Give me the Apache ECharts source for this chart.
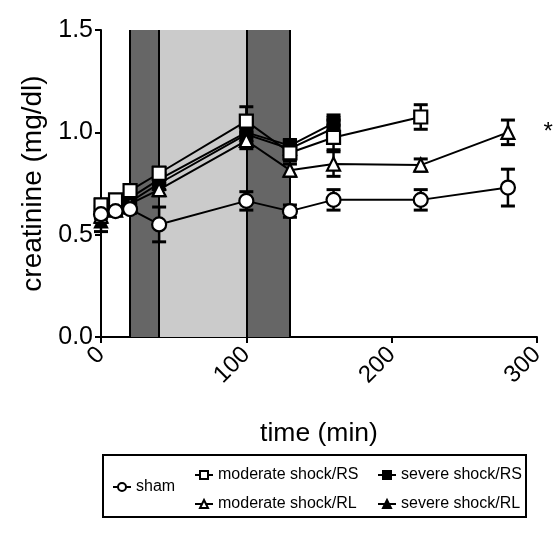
<!DOCTYPE html>
<html><head><meta charset="utf-8">
<script src="https://cdn.jsdelivr.net/npm/echarts@6/dist/echarts.min.js"></script>
<style>html,body{margin:0;padding:0;background:#fff}#c{width:557px;height:543px}</style>
</head><body><div id="c"></div>
<script>
// ---- data ----
const shamT  = [0, 10, 20, 40, 100, 130, 160, 220, 280];
const shamY  = [0.60, 0.615, 0.625, 0.55, 0.665, 0.615, 0.67, 0.67, 0.73];
const shamE  = [0.04, 0.02, 0.02, 0.085, 0.045, 0.03, 0.05, 0.05, 0.09];

const modRST = [0, 10, 20, 40, 100, 130, 160, 220];
const modRSY = [0.645, 0.67, 0.715, 0.80, 1.055, 0.90, 0.975, 1.075];
const modRSE = [0.03, 0.02, 0.03, 0.03, 0.07, 0.04, 0.06, 0.06];

const sevRST = [0, 10, 20, 40, 100, 130, 160];
const sevRSY = [0.61, 0.64, 0.68, 0.77, 1.00, 0.935, 1.045];
const sevRSE = [0.03, 0.02, 0.03, 0.03, 0.05, 0.03, 0.04];

const modRLT = [0, 10, 20, 40, 100, 130, 160, 220, 280];
const modRLY = [0.59, 0.62, 0.65, 0.72, 0.96, 0.815, 0.845, 0.84, 1.0];
const modRLE = [0.03, 0.02, 0.03, 0.03, 0.04, 0.03, 0.06, 0.03, 0.06];

const sevRLT = [0, 10, 20, 40, 100, 130, 160];
const sevRLY = [0.565, 0.62, 0.66, 0.75, 0.99, 0.92, 1.02];
const sevRLE = [0.05, 0.02, 0.03, 0.03, 0.05, 0.03, 0.04];

const darkBands  = [[20, 40], [100, 130]];
const lightBands = [[40, 100]];
const phaseLines = [20, 40, 100, 130];
const xTicks = [0, 100, 200, 300];
const yTicks = [0.0, 0.5, 1.0, 1.5];

const FONT = 'Liberation Sans, Arial, sans-serif';

function pts(t, y) { return t.map((v, i) => [v, y[i]]); }
function errs(t, y, e) { return t.map((v, i) => [v, y[i] - e[i], y[i] + e[i]]); }

function lineSeries(name, t, y, symbol, size, filled, extra) {
  return Object.assign({
    name: name, type: 'line', data: pts(t, y), symbol: symbol, symbolSize: size,
    showSymbol: true, z: 5,
    lineStyle: { color: '#000', width: 2 },
    itemStyle: { color: filled ? '#000' : '#fff', borderColor: '#000', borderWidth: 2.2 },
    emphasis: { disabled: true }, animation: false
  }, extra || {});
}
function errSeries(id, t, y, e) {
  return {
    name: id, type: 'custom', data: errs(t, y, e), z: 4, animation: false,
    encode: { x: 0, y: [1, 2] },
    renderItem: function (params, api) {
      const x = api.value(0);
      const lo = api.coord([x, api.value(1)]);
      const hi = api.coord([x, api.value(2)]);
      const w = 7;
      const st = { stroke: '#000', lineWidth: 2.5 };
      return { type: 'group', children: [
        { type: 'line', shape: { x1: lo[0], y1: lo[1], x2: hi[0], y2: hi[1] }, style: st },
        { type: 'line', shape: { x1: lo[0] - w, y1: lo[1], x2: lo[0] + w, y2: lo[1] }, style: { stroke: '#000', lineWidth: 3 } },
        { type: 'line', shape: { x1: hi[0] - w, y1: hi[1], x2: hi[0] + w, y2: hi[1] }, style: { stroke: '#000', lineWidth: 3 } }
      ]};
    }
  };
}

const modRLData = pts(modRLT, modRLY);
modRLData[modRLData.length - 1] = {
  value: modRLData[modRLData.length - 1],
  label: { show: true, position: 'right', distance: 28, formatter: '*', fontSize: 24, color: '#000', fontFamily: FONT }
};

const chart = echarts.init(document.getElementById('c'), null, { renderer: 'canvas' });
const legendText = { color: '#000', fontSize: 16, fontFamily: FONT };
chart.setOption({
  animation: false,
  backgroundColor: '#fff',
  grid: { left: 101, right: 20, top: 30, bottom: 206, containLabel: false },
  xAxis: {
    type: 'value', min: xTicks[0], max: xTicks[xTicks.length - 1], interval: 100,
    name: 'time (min)', nameLocation: 'middle', nameGap: 83,
    nameTextStyle: { color: '#000', fontSize: 26.5, fontFamily: FONT },
    axisLine: { show: true, onZero: false, lineStyle: { color: '#000', width: 2 } },
    axisTick: { show: true, length: 6, lineStyle: { color: '#000', width: 2 } },
    axisLabel: { rotate: 45, margin: 14, color: '#000', fontSize: 24, fontFamily: FONT },
    splitLine: { show: false }
  },
  yAxis: {
    type: 'value', min: yTicks[0], max: yTicks[yTicks.length - 1], interval: 0.5,
    name: 'creatinine (mg/dl)', nameLocation: 'middle', nameGap: 52,
    nameTextStyle: { color: '#000', fontSize: 28, fontFamily: FONT },
    axisLine: { show: true, lineStyle: { color: '#000', width: 2 } },
    axisTick: { show: true, length: 6, lineStyle: { color: '#000', width: 2 } },
    axisLabel: { margin: 8, color: '#000', fontSize: 25, fontFamily: FONT, formatter: v => v.toFixed(1) },
    splitLine: { show: false }
  },
  legend: [
    { data: ['sham'], left: 107, top: 474, itemWidth: 18, itemHeight: 10, selectedMode: false, textStyle: legendText },
    { data: ['moderate shock/RS', 'moderate shock/RL'], orient: 'vertical', left: 189, top: 462, itemGap: 13, itemWidth: 18, itemHeight: 10, selectedMode: false, textStyle: legendText },
    { data: ['severe shock/RS', 'severe shock/RL'], orient: 'vertical', left: 372, top: 462, itemGap: 13, itemWidth: 18, itemHeight: 10, selectedMode: false, textStyle: legendText }
  ],
  graphic: [
    { type: 'rect', shape: { x: 103, y: 455, width: 423, height: 62 }, style: { fill: 'none', stroke: '#000', lineWidth: 2 }, z: 10 }
  ],
  series: [
    {
      name: 'phases', type: 'line', data: [], z: 1, silent: true, animation: false,
      markArea: {
        silent: true,
        data: darkBands.map(b => [{ xAxis: b[0], yAxis: 0, itemStyle: { color: '#666' } }, { xAxis: b[1], yAxis: 1.5 }])
          .concat(lightBands.map(b => [{ xAxis: b[0], yAxis: 0, itemStyle: { color: '#cbcbcb' } }, { xAxis: b[1], yAxis: 1.5 }]))
      },
      markLine: {
        silent: true, symbol: 'none', label: { show: false },
        lineStyle: { color: '#000', width: 2, type: 'solid' },
        data: phaseLines.map(v => ({ xAxis: v }))
      }
    },
    errSeries('e1', shamT, shamY, shamE),
    errSeries('e2', modRST, modRSY, modRSE),
    errSeries('e3', sevRST, sevRSY, sevRSE),
    errSeries('e4', modRLT, modRLY, modRLE),
    errSeries('e5', sevRLT, sevRLY, sevRLE),
    lineSeries('severe shock/RL', sevRLT, sevRLY, 'triangle', 12, true),
    lineSeries('severe shock/RS', sevRST, sevRSY, 'rect', 12, true),
    Object.assign(lineSeries('moderate shock/RL', modRLT, modRLY, 'triangle', 13, false), { data: modRLData }),
    lineSeries('moderate shock/RS', modRST, modRSY, 'rect', 13, false),
    lineSeries('sham', shamT, shamY, 'circle', 14, false)
  ]
});
</script>
</body></html>
